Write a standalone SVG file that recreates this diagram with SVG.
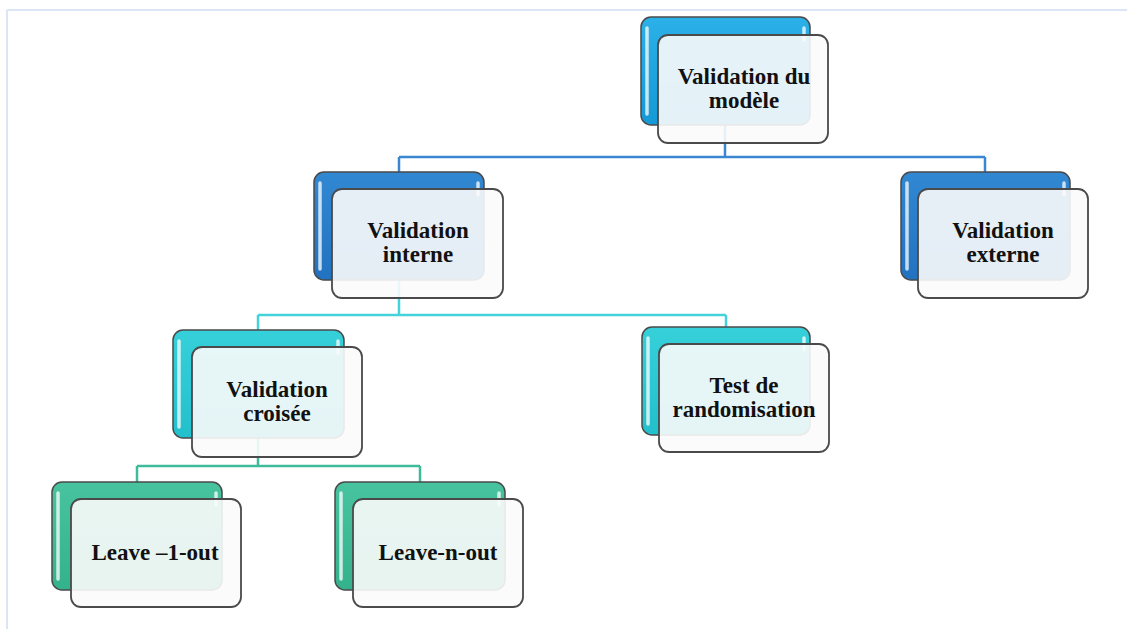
<svg xmlns="http://www.w3.org/2000/svg" width="1127" height="629" viewBox="0 0 1127 629">
<defs>
<style>
.frame{stroke:#dce5f6;stroke-width:2;fill:none}
.back{stroke:#4a4a4a;stroke-width:1.5}
.front{fill:#fbfbfb;fill-opacity:0.9;stroke:#4a4a4a;stroke-width:1.8}
.hl{stroke:#ffffff;stroke-opacity:0.75;stroke-width:3.5;stroke-linecap:round}
.lbl{font-family:"Liberation Serif","Times New Roman",serif;font-weight:bold;font-size:23px;fill:#111;text-anchor:middle}
.c1{stroke:#3a86d0;stroke-width:2.5;fill:none}
.c2{stroke:#44d2db;stroke-width:2.5;fill:none}
.c3{stroke:#3dbb9a;stroke-width:2.5;fill:none}
</style>
<linearGradient id="gSky" x1="0" y1="0" x2="0" y2="1"><stop offset="0" stop-color="#2cb0e8"/><stop offset="1" stop-color="#1499d6"/></linearGradient>
<linearGradient id="gBlue" x1="0" y1="0" x2="0" y2="1"><stop offset="0" stop-color="#3188d2"/><stop offset="1" stop-color="#2272c0"/></linearGradient>
<linearGradient id="gCyan" x1="0" y1="0" x2="0" y2="1"><stop offset="0" stop-color="#36d0da"/><stop offset="1" stop-color="#22c0cc"/></linearGradient>
<linearGradient id="gGreen" x1="0" y1="0" x2="0" y2="1"><stop offset="0" stop-color="#48c39f"/><stop offset="1" stop-color="#34b28c"/></linearGradient>
</defs>
<g id="frame">
<line class="frame" x1="7" y1="10" x2="1127" y2="10"/>
<line class="frame" x1="7" y1="10" x2="7" y2="629"/>
</g>
<g id="connectors">
<path class="c1" d="M725,120 V157 M399,157 H985 M399,157 V172 M985,157 V172"/>
<path class="c2" d="M399,275 V315 M258,315 H726 M258,315 V330 M726,315 V327"/>
<path class="c3" d="M258,432 V466 M137,466 H420 M137,466 V482 M420,466 V482"/>
</g>
<g id="n-modele">
<rect class="back" x="641" y="17" width="169" height="108" rx="10" fill="url(#gSky)"/>
<line class="hl" x1="647" y1="28" x2="647" y2="114"/><line class="hl" x1="804" y1="28" x2="804" y2="40"/>
<rect class="front" x="658" y="35" width="170" height="108" rx="10"/>
<text class="lbl" x="744" y="84">Validation du</text>
<text class="lbl" x="744" y="108">modèle</text>
</g>
<g id="n-interne">
<rect class="back" x="314" y="172" width="170" height="108" rx="10" fill="url(#gBlue)"/>
<line class="hl" x1="320" y1="183" x2="320" y2="269"/><line class="hl" x1="478" y1="183" x2="478" y2="195"/>
<rect class="front" x="332" y="189" width="171" height="109" rx="10"/>
<text class="lbl" x="418" y="238">Validation</text>
<text class="lbl" x="418" y="262">interne</text>
</g>
<g id="n-externe">
<rect class="back" x="901" y="172" width="169" height="108" rx="10" fill="url(#gBlue)"/>
<line class="hl" x1="907" y1="183" x2="907" y2="269"/><line class="hl" x1="1064" y1="183" x2="1064" y2="195"/>
<rect class="front" x="918" y="189" width="170" height="109" rx="10"/>
<text class="lbl" x="1003" y="238">Validation</text>
<text class="lbl" x="1003" y="262">externe</text>
</g>
<g id="n-croisee">
<rect class="back" x="173" y="330" width="171" height="108" rx="10" fill="url(#gCyan)"/>
<line class="hl" x1="179" y1="341" x2="179" y2="427"/><line class="hl" x1="338" y1="341" x2="338" y2="353"/>
<rect class="front" x="192" y="347" width="170" height="110" rx="10"/>
<text class="lbl" x="277" y="397">Validation</text>
<text class="lbl" x="277" y="421">croisée</text>
</g>
<g id="n-random">
<rect class="back" x="642" y="327" width="168" height="108" rx="10" fill="url(#gCyan)"/>
<line class="hl" x1="648" y1="338" x2="648" y2="424"/><line class="hl" x1="804" y1="338" x2="804" y2="350"/>
<rect class="front" x="659" y="344" width="170" height="108" rx="10"/>
<text class="lbl" x="744" y="393">Test de</text>
<text class="lbl" x="744" y="417">randomisation</text>
</g>
<g id="n-leave1">
<rect class="back" x="52" y="482" width="170" height="108" rx="10" fill="url(#gGreen)"/>
<line class="hl" x1="58" y1="493" x2="58" y2="579"/><line class="hl" x1="216" y1="493" x2="216" y2="505"/>
<rect class="front" x="71" y="499" width="170" height="108" rx="10"/>
<text class="lbl" x="155" y="560">Leave –1-out</text>
</g>
<g id="n-leaven">
<rect class="back" x="335" y="482" width="170" height="108" rx="10" fill="url(#gGreen)"/>
<line class="hl" x1="341" y1="493" x2="341" y2="579"/><line class="hl" x1="499" y1="493" x2="499" y2="505"/>
<rect class="front" x="353" y="499" width="170" height="108" rx="10"/>
<text class="lbl" x="438" y="560">Leave-n-out</text>
</g>
</svg>
